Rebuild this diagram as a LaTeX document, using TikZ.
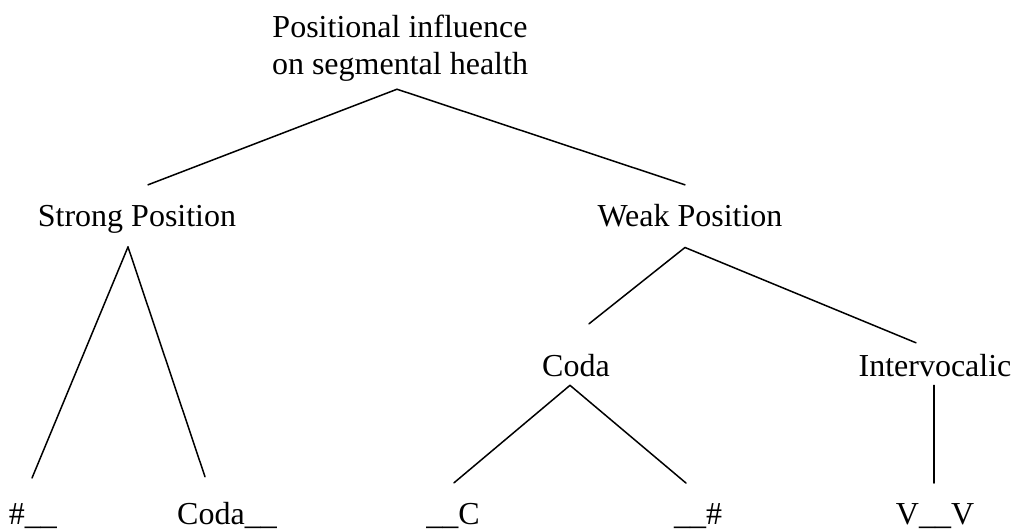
\documentclass[tikz,border=0pt]{standalone}
\usepackage{fontspec}
\setmainfont{Liberation Serif}
\begin{document}
\begin{tikzpicture}[x=1pt,y=-1pt,
  lbl/.style={inner sep=0pt,outer sep=0pt,font=\fontsize{32}{37}\selectfont,anchor=base},
  edge/.style={line width=1.5pt,line cap=round}]
\useasboundingbox (0,0) rectangle (1013,531);
\node[lbl,anchor=center,align=center] (root) at (400,48) {Positional influence\\on segmental health};
\node[lbl] (strong) at (137,226) {Strong Position};
\node[lbl] (weak) at (690,226) {Weak Position};
\node[lbl] (coda) at (576,376) {Coda};
\node[lbl] (inter) at (935,376) {Intervocalic};
\node[lbl] (hashl) at (33,524) {\#\_\_};
\node[lbl] (codal) at (227,524) {Coda\_\_};
\node[lbl] (cl) at (453,524) {\_\_C};
\node[lbl] (hashr) at (698,524) {\_\_\#};
\node[lbl] (vv) at (935,524) {V\_\_V};
% root
\draw[edge] ([xshift=-3pt,yshift=-8pt]root.south) -- ([xshift=11pt,yshift=20pt]strong.north);
\draw[edge] ([xshift=-3pt,yshift=-8pt]root.south) -- ([xshift=-5pt,yshift=19pt]weak.north);
% strong
\draw[edge] ([xshift=-9pt,yshift=-14pt]strong.south) -- ([xshift=-1pt,yshift=25pt]hashl.north);
\draw[edge] ([xshift=-9pt,yshift=-14pt]strong.south) -- ([xshift=-22pt,yshift=25pt]codal.north);
% weak
\draw[edge] ([xshift=-5pt,yshift=-21pt]weak.south) -- ([xshift=13pt,yshift=30pt]coda.north);
\draw[edge] ([xshift=-5pt,yshift=-21pt]weak.south) -- ([xshift=-19pt,yshift=11pt]inter.north);
% coda
\draw[edge] ([xshift=-6pt,yshift=-9pt]coda.south) -- ([xshift=1pt,yshift=20pt]cl.north);
\draw[edge] ([xshift=-6pt,yshift=-9pt]coda.south) -- ([xshift=-12pt,yshift=20pt]hashr.north);
% intervocalic
\draw[edge] ([xshift=-1pt,yshift=-9pt]inter.south) -- ([xshift=-1pt,yshift=20pt]vv.north);
\end{tikzpicture}
\end{document}
